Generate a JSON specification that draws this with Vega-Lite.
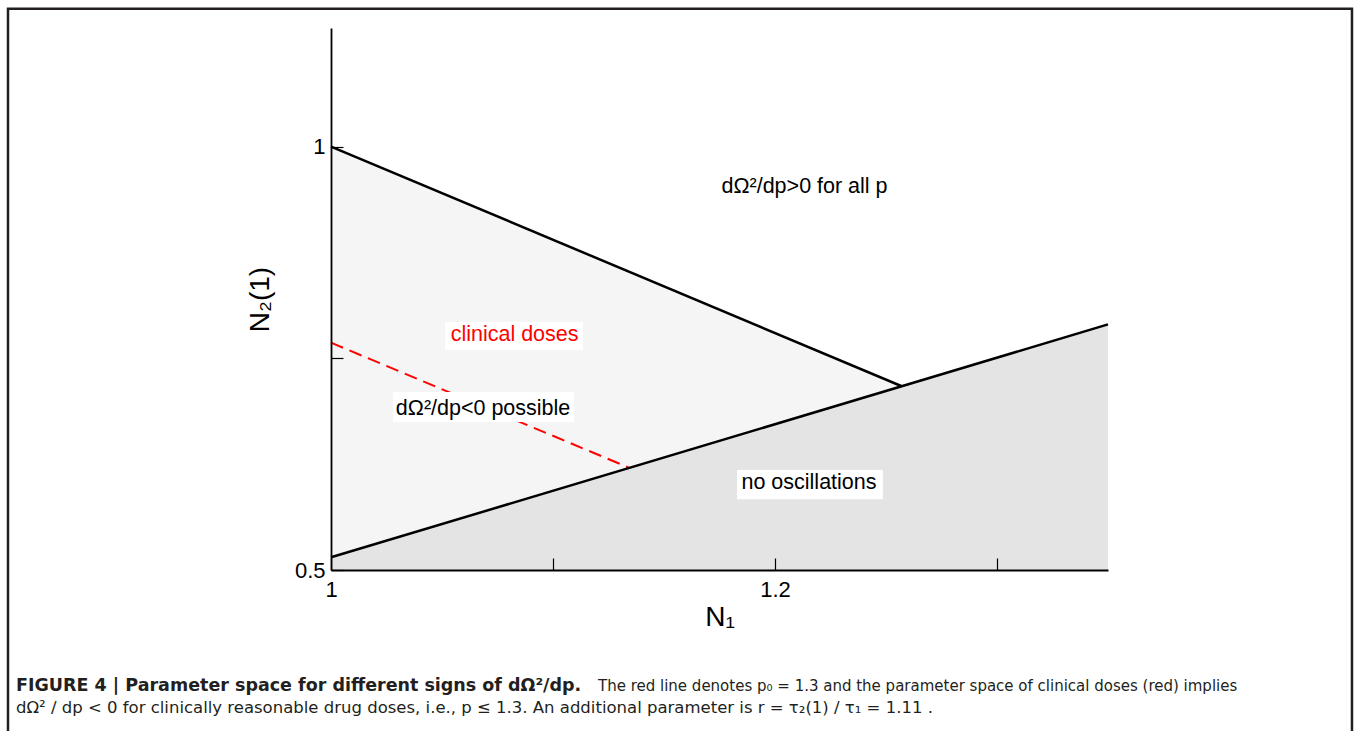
{
  "$schema": "https://vega.github.io/schema/vega-lite/v6.json",
  "width": 777,
  "height": 542,
  "autosize": {"type": "none"},
  "padding": {"left": 331, "top": 28, "right": 247, "bottom": 161},
  "background": "white",
  "config": {
    "view": {"stroke": null},
    "font": "Liberation Sans",
    "axis": {
      "grid": false,
      "domainColor": "black",
      "domainWidth": 1.8,
      "tickColor": "black",
      "tickWidth": 1.2,
      "labelFont": "Liberation Sans",
      "labelFontSize": 22,
      "labelColor": "black",
      "titleFont": "Liberation Sans",
      "titleFontSize": 28,
      "titleFontWeight": "normal",
      "titleColor": "black"
    }
  },
  "datasets": {
    "regions": [
      {"region": "clinical", "N1": 1.0, "N2": 1.0, "lower": 0.515},
      {"region": "clinical", "N1": 1.2571, "N2": 0.717, "lower": 0.717},
      {"region": "noosc", "N1": 1.0, "N2": 0.515, "lower": 0.5},
      {"region": "noosc", "N1": 1.35, "N2": 0.79, "lower": 0.5}
    ],
    "boundaries": [
      {"line": "upper", "N1": 1.0, "N2": 1.0},
      {"line": "upper", "N1": 1.2571, "N2": 0.717},
      {"line": "lower", "N1": 1.0, "N2": 0.515},
      {"line": "lower", "N1": 1.35, "N2": 0.79}
    ],
    "p0": [
      {"N1": 1.0, "N2": 0.7684},
      {"N1": 1.1344, "N2": 0.6206}
    ],
    "boxes": [
      {"N1": 1.0514, "N1end": 1.1135, "N2": 0.7928, "N2end": 0.7598},
      {"N1": 1.0279, "N1end": 1.1095, "N2": 0.7102, "N2end": 0.6748},
      {"N1": 1.1829, "N1end": 1.2486, "N2": 0.618, "N2end": 0.5835}
    ],
    "labels": [
      {"label": "dΩ²/dp>0 for all p", "N1": 1.2133, "N2": 0.9522},
      {"label": "clinical doses", "N1": 1.0827, "N2": 0.7775},
      {"label": "dΩ²/dp<0 possible", "N1": 1.0685, "N2": 0.69},
      {"label": "no oscillations", "N1": 1.2153, "N2": 0.6027}
    ],
    "frame": [
      {"N1": 0.8545, "N1end": 1.4599, "N2": 1.1627, "N2end": 0.2993}
    ],
    "captionBold": [
      {"text": "FIGURE 4 | Parameter space for different signs of dΩ²/dp.", "N1": 0.85811, "N2": 0.36303}
    ],
    "caption1": [
      {"text": "The red line denotes p₀ = 1.3 and the parameter space of clinical doses (red) implies", "N1": 1.12027, "N2": 0.36303}
    ],
    "caption2": [
      {"text": "dΩ² / dp < 0 for clinically reasonable drug doses, i.e., p ≤ 1.3. An additional parameter is r = τ₂(1) / τ₁ = 1.11 .", "N1": 0.85811, "N2": 0.33705}
    ]
  },
  "layer": [
    {
      "data": {"name": "frame"},
      "mark": {"type": "rect", "fill": null, "stroke": "#231f20", "strokeWidth": 2.5, "clip": false},
      "encoding": {
        "x": {"field": "N1", "type": "quantitative", "scale": {"domain": [1, 1.35], "nice": false, "zero": false},
          "axis": {"values": [1, 1.1, 1.2, 1.3], "format": "~g", "labelExpr": "datum.value == 1 || datum.value == 1.2 ? datum.label : ''", "labelFlush": false, "tickSize": -12, "labelPadding": 21, "title": "N₁", "titlePadding": 3, "zindex": 1}},
        "x2": {"field": "N1end"},
        "y": {"field": "N2", "type": "quantitative", "scale": {"domain": [0.5, 1.14], "nice": false, "zero": false},
          "axis": {"values": [0.5, 0.75, 1], "format": "~g", "labelExpr": "datum.value == 0.5 || datum.value == 1 ? datum.label : ''", "labelFlush": false, "tickSize": -12, "labelPadding": 18, "title": "N₂(1)", "titlePadding": 20, "zindex": 1}},
        "y2": {"field": "N2end"}
      }
    },
    {
      "data": {"name": "regions"},
      "mark": {"type": "area", "stroke": null},
      "encoding": {
        "x": {"field": "N1", "type": "quantitative"},
        "y": {"field": "N2", "type": "quantitative"},
        "y2": {"field": "lower"},
        "color": {"field": "region", "type": "nominal", "scale": {"domain": ["clinical", "noosc"], "range": ["#f5f5f5", "#e4e4e4"]}, "legend": null}
      }
    },
    {
      "data": {"name": "p0"},
      "mark": {"type": "line", "color": "#ff0000", "strokeWidth": 2, "strokeDash": [13, 7]},
      "encoding": {
        "x": {"field": "N1", "type": "quantitative"},
        "y": {"field": "N2", "type": "quantitative"}
      }
    },
    {
      "data": {"name": "boxes"},
      "mark": {"type": "rect", "fill": "white"},
      "encoding": {
        "x": {"field": "N1", "type": "quantitative"},
        "x2": {"field": "N1end"},
        "y": {"field": "N2", "type": "quantitative"},
        "y2": {"field": "N2end"}
      }
    },
    {
      "data": {"name": "boundaries"},
      "mark": {"type": "line", "color": "black", "strokeWidth": 2.5},
      "encoding": {
        "x": {"field": "N1", "type": "quantitative"},
        "y": {"field": "N2", "type": "quantitative"},
        "detail": {"field": "line", "type": "nominal"}
      }
    },
    {
      "data": {"name": "labels"},
      "mark": {"type": "text", "fontSize": 21.5, "font": "Liberation Sans", "align": "center", "baseline": "middle"},
      "encoding": {
        "x": {"field": "N1", "type": "quantitative"},
        "y": {"field": "N2", "type": "quantitative"},
        "text": {"field": "label"},
        "color": {"condition": {"test": "datum.label === 'clinical doses'", "value": "#ff0000"}, "value": "black"}
      }
    },
    {
      "data": {"name": "captionBold"},
      "mark": {"type": "text", "fontSize": 17.5, "fontWeight": "bold", "font": "DejaVu Sans", "align": "left", "baseline": "middle", "color": "#231f20"},
      "encoding": {
        "x": {"field": "N1", "type": "quantitative"},
        "y": {"field": "N2", "type": "quantitative"},
        "text": {"field": "text"}
      }
    },
    {
      "data": {"name": "caption1"},
      "mark": {"type": "text", "fontSize": 15, "font": "DejaVu Sans", "align": "left", "baseline": "middle", "color": "#231f20"},
      "encoding": {
        "x": {"field": "N1", "type": "quantitative"},
        "y": {"field": "N2", "type": "quantitative"},
        "text": {"field": "text"}
      }
    },
    {
      "data": {"name": "caption2"},
      "mark": {"type": "text", "fontSize": 16.5, "font": "DejaVu Sans", "align": "left", "baseline": "middle", "color": "#231f20"},
      "encoding": {
        "x": {"field": "N1", "type": "quantitative"},
        "y": {"field": "N2", "type": "quantitative"},
        "text": {"field": "text"}
      }
    }
  ]
}
